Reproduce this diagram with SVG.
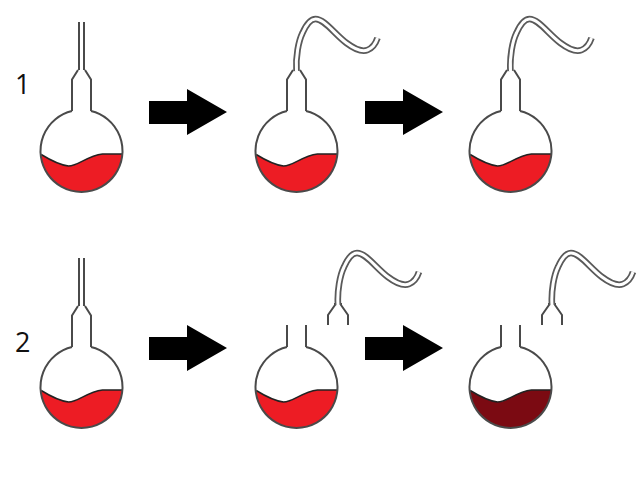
<svg xmlns="http://www.w3.org/2000/svg" width="640" height="478" viewBox="0 0 640 478">
<style>
.glass{fill:none;stroke:#4a4a4a;stroke-width:2}
.red{fill:#ed1c24}
.dark{fill:#7b0a12}
.wave{fill:none;stroke:#222;stroke-width:1.5}
.tubeo{fill:none;stroke:#5a5a5a;stroke-width:6.6}
.tubei{fill:none;stroke:#fff;stroke-width:3}
.arrow{fill:#000}
.num{font-family:"Open Sans","Liberation Sans",sans-serif;font-size:27px;fill:#111}
</style>
<defs>
<path id="liquid" d="M-40.85 3.5C-33 8-22 14-13 15C-3 15 5 5 21 3L40.9 3A41 41 0 0 1-40.85 3.5Z"/>
<path id="wave" d="M-40.3 3.5C-33 8-22 14-13 15C-3 15 5 5 21 3L40.8 3"/>
<path id="body" d="M-9.5-40A41 41 0 1 0 9.5-40"/>
<path id="necktall" d="M-9.5-40V-71.5L-3.5-81M9.5-40V-71.5L3.5-81"/>
<path id="neckcut" d="M-9.5-40V-62M9.5-40V-62"/>
<path id="straight" d="M-2.5-81V-129M2.5-81V-129"/>
<path id="curve" d="M0 0C-1-14 2-30 6-38C10-47 14-52 19-52C28-52 38-37 50-28C58-22 66-19 71-21C76-23 79-27 81-33"/>
<path id="fork" d="M-10 20V10L-3 0V-2M10 20V10L3 0V-2"/>
<path id="arrowshape" d="M0 0H38V-12L78 11L38 34V23H0Z"/>
</defs>
<rect width="640" height="478" fill="#fff"/>
<g id="connectors">
<use href="#arrowshape" class="arrow" x="149" y="101"/>
<use href="#arrowshape" class="arrow" x="365" y="101"/>
<use href="#arrowshape" class="arrow" x="149" y="337"/>
<use href="#arrowshape" class="arrow" x="365" y="337"/>
</g>
<text id="label-1" class="num" x="15" y="94">1</text>
<text id="label-2" class="num" x="15" y="352">2</text>
<g id="flask-1a" transform="translate(81.5 151)">
<use href="#liquid" class="red"/><use href="#wave" class="wave"/><use href="#body" class="glass"/><use href="#necktall" class="glass"/><use href="#straight" class="glass"/>
</g>
<g id="flask-1b" transform="translate(296.5 151)">
<use href="#liquid" class="red"/><use href="#wave" class="wave"/><use href="#body" class="glass"/><use href="#necktall" class="glass"/>
<g transform="translate(0 -80)"><use href="#curve" class="tubeo"/><use href="#curve" class="tubei"/></g>
</g>
<g id="flask-1c" transform="translate(510.5 151)">
<use href="#liquid" class="red"/><use href="#wave" class="wave"/><use href="#body" class="glass"/><use href="#necktall" class="glass"/>
<g transform="translate(0 -80)"><use href="#curve" class="tubeo"/><use href="#curve" class="tubei"/></g>
</g>
<g id="flask-2a" transform="translate(81.5 387)">
<use href="#liquid" class="red"/><use href="#wave" class="wave"/><use href="#body" class="glass"/><use href="#necktall" class="glass"/><use href="#straight" class="glass"/>
</g>
<g id="flask-2b" transform="translate(296.5 387)">
<use href="#liquid" class="red"/><use href="#wave" class="wave"/><use href="#body" class="glass"/><use href="#neckcut" class="glass"/>
</g>
<g id="tube-2b" transform="translate(338 305)">
<use href="#fork" class="glass"/><use href="#curve" class="tubeo"/><use href="#curve" class="tubei"/>
</g>
<g id="flask-2c" transform="translate(510.5 387)">
<use href="#liquid" class="dark"/><use href="#wave" class="wave"/><use href="#body" class="glass"/><use href="#neckcut" class="glass"/>
</g>
<g id="tube-2c" transform="translate(552 305)">
<use href="#fork" class="glass"/><use href="#curve" class="tubeo"/><use href="#curve" class="tubei"/>
</g>
</svg>
